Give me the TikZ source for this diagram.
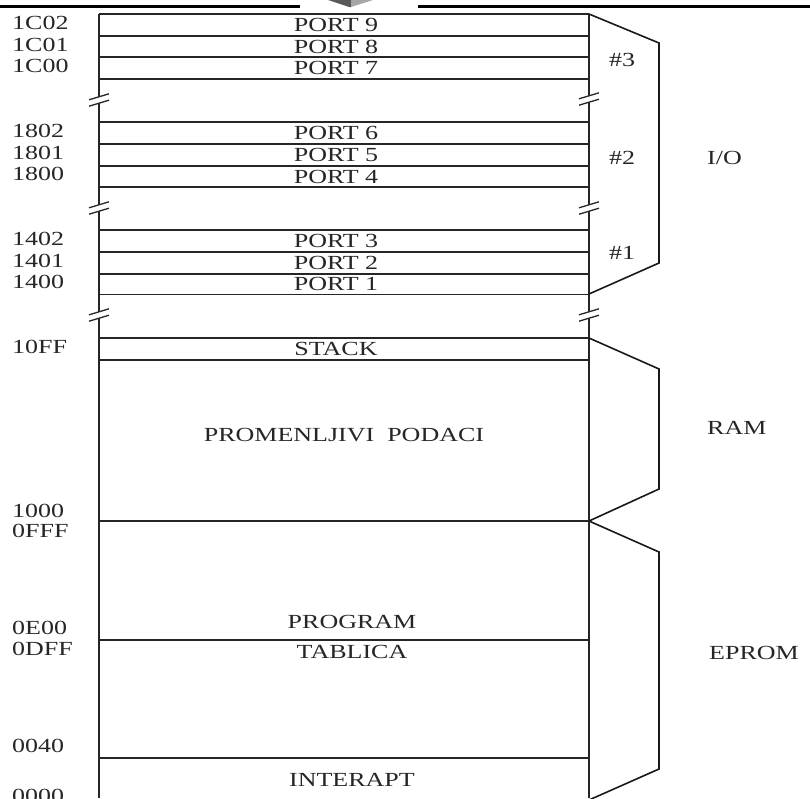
\documentclass[tikz,border=0pt]{standalone}
\usepackage{fontspec}
\setmainfont{Liberation Serif}[FakeStretch=1.3]
\usepackage{tikz}

\begin{document}
\begin{tikzpicture}[x=1pt, y=-1pt,
	txt/.style={font=\fontsize{20}{20}\selectfont, text=black!85, inner sep=0pt},
	addr/.style={txt, anchor=west},
	wall/.style={draw=black!85, line width=1.8pt},
	brace/.style={draw=black!90, line width=1.6pt, line join=miter},
	cut/.style={draw=black!85, line width=1.3pt},
	cutmark/.pic={
		\fill[white] (-2,-2.4) -- (2,-3.6) -- (2,2.6) -- (-2,3.8) -- cycle;
		\draw[cut] (-10,-0.2) -- (10,-6.2);
		\draw[cut] (-10,6.2) -- (10,0.2);
	}
	]
	\useasboundingbox (0,0) rectangle (810,798);
	
	% Zaglavlje stranice
	\draw[line width=3pt] (0,6) -- (300,6);
	\draw[line width=3pt] (418,6) -- (810,6);
	\fill[black!65] (328,0) -- (349,7) -- (351,7) -- (351,0) -- cycle;
	\fill[black!35] (351,0) -- (351,7) -- (373,0) -- cycle;
	
	% Okvir memorije
	\draw[wall] (99,14) -- (99,798);
	\draw[wall] (589,14) -- (589,798);
	
	% Portovi #3
	\draw[wall] (99,14) -- (589,14);
	\draw[wall] (99,35.7) -- (589,35.7);
	\draw[wall] (99,57.3) -- (589,57.3);
	\draw[wall] (99,79) -- (589,79);
	% Portovi #2
	\draw[wall] (99,122.3) -- (589,122.3);
	\draw[wall] (99,144) -- (589,144);
	\draw[wall] (99,165.7) -- (589,165.7);
	\draw[wall] (99,187.3) -- (589,187.3);
	% Portovi #1
	\draw[wall] (99,230) -- (589,230);
	\draw[wall] (99,252.3) -- (589,252.3);
	\draw[wall] (99,274) -- (589,274);
	\draw[wall] (99,294.5) -- (589,294.5);
	% RAM i EPROM
	\draw[wall] (99,338) -- (589,338);
	\draw[wall] (99,360) -- (589,360);
	\draw[wall] (99,521) -- (589,521);
	\draw[wall] (99,640) -- (589,640);
	\draw[wall] (99,758) -- (589,758);
	
	% Prekidi adresnog prostora
	\pic at (99,100) {cutmark};
	\pic at (99,208) {cutmark};
	\pic at (99,315) {cutmark};
	\pic at (589,99) {cutmark};
	\pic at (589,208) {cutmark};
	\pic at (589,315) {cutmark};
	
	% Sadrzaj celija
	\node[txt] (port9) at (336,24.8)  {PORT 9};
	\node[txt] (port8) at (336,46.5)  {PORT 8};
	\node[txt] (port7) at (336,68.2)  {PORT 7};
	\node[txt] (port6) at (336,133.2) {PORT 6};
	\node[txt] (port5) at (336,154.9) {PORT 5};
	\node[txt] (port4) at (336,176.5) {PORT 4};
	\node[txt] (port3) at (336,241.2) {PORT 3};
	\node[txt] (port2) at (336,263.2) {PORT 2};
	\node[txt] (port1) at (336,284.3) {PORT 1};
	\node[txt] (stack) at (336,349)   {STACK};
	\node[txt] (data)  at (344,435)   {PROMENLJIVI~~PODACI};
	\node[txt] (prog)  at (352,622)   {PROGRAM};
	\node[txt] (table) at (352,652)   {TABLICA};
	\node[txt] (irq)   at (352,780)   {INTERAPT};
	
	% Adrese
	\node[addr] (a1c02) at (12,23)    {1C02};
	\node[addr] (a1c01) at (12,44.5)  {1C01};
	\node[addr] (a1c00) at (12,66)    {1C00};
	\node[addr] (a1802) at (12,131)   {1802};
	\node[addr] (a1801) at (12,152.5) {1801};
	\node[addr] (a1800) at (12,174)   {1800};
	\node[addr] (a1402) at (12,239)   {1402};
	\node[addr] (a1401) at (12,260.5) {1401};
	\node[addr] (a1400) at (12,282)   {1400};
	\node[addr] (a10ff) at (12,347)   {10FF};
	\node[addr] (a1000) at (12,511)   {1000};
	\node[addr] (a0fff) at (12,531)   {0FFF};
	\node[addr] (a0e00) at (12,628)   {0E00};
	\node[addr] (a0dff) at (12,649)   {0DFF};
	\node[addr] (a0040) at (12,746)   {0040};
	\node[addr] (a0000) at (12,796)   {0000};
	
	% Zagrade i oblasti
	\draw[brace] (589,14) -- (659,43) -- (659,263) -- (589,294);
	\draw[brace] (589,338) -- (659,369) -- (659,489) -- (589,521);
	\draw[brace] (589,521) -- (659,552) -- (659,769) -- (589,800);
	
	\node[txt] (grp3) at (622,60)  {\#3};
	\node[txt] (grp2) at (622,158) {\#2};
	\node[txt] (grp1) at (622,253) {\#1};
	\node[addr] (io)    at (707,158) {I/O};
	\node[addr] (ram)   at (707,428) {RAM};
	\node[addr] (eprom) at (709,653) {EPROM};
	
\end{tikzpicture}
\end{document}
